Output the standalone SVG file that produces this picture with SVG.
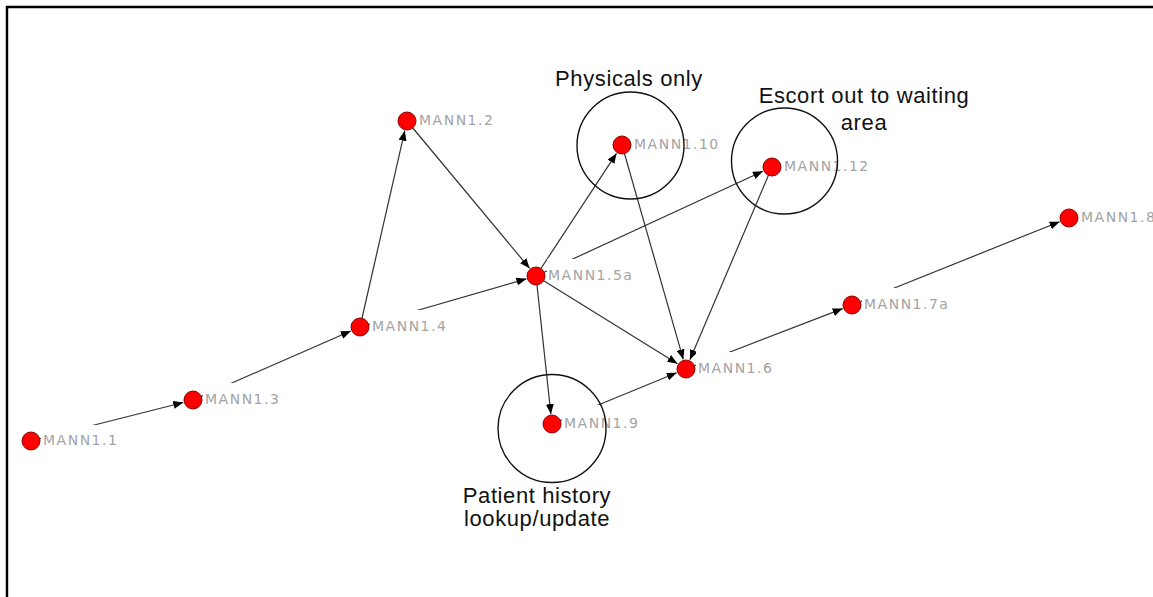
<svg xmlns="http://www.w3.org/2000/svg" width="1153" height="597" viewBox="0 0 1153 597">
  <style>
    .edge { stroke: #333333; stroke-width: 1.2; fill: none; marker-end: url(#arrow); }
    .dot { fill: #ff0000; stroke: #8b0000; stroke-width: 1; }
    .lblbg { fill: #ffffff; }
    .lbl { font-family: "DejaVu Sans", sans-serif; font-size: 14px; letter-spacing: 1.5px; fill: #a3a3a3; }
    .ring { fill: none; stroke: #111111; stroke-width: 1.4; }
    .note { font-family: "Liberation Sans", Arial, sans-serif; font-size: 22px; letter-spacing: 0.6px; fill: #111111; text-anchor: middle; }
  </style>
  <defs>
    <marker id="arrow" markerUnits="userSpaceOnUse" markerWidth="10" markerHeight="8" refX="10" refY="4" orient="auto">
      <path d="M0,0 L10,4 L0,8 z" fill="#000000"/>
    </marker>
  </defs>

  <rect width="1153" height="597" fill="#ffffff"/>
  <!-- frame: only the top and left sides fall inside the view -->
  <path d="M7,597 V7 H1153" fill="none" stroke="#000000" stroke-width="2.4"/>

  <g id="connectors">
    <line class="edge" x1="31" y1="441" x2="183.3" y2="402.5"/>
    <line class="edge" x1="193" y1="400" x2="350.8" y2="331.0"/>
    <line class="edge" x1="360" y1="327" x2="404.8" y2="130.7"/>
    <line class="edge" x1="407" y1="121" x2="529.6" y2="268.3"/>
    <line class="edge" x1="360" y1="327" x2="526.4" y2="278.8"/>
    <line class="edge" x1="536" y1="276" x2="616.5" y2="153.4"/>
    <line class="edge" x1="536" y1="276" x2="762.9" y2="171.2"/>
    <line class="edge" x1="536" y1="276" x2="677.5" y2="363.7"/>
    <line class="edge" x1="536" y1="276" x2="550.9" y2="414.1"/>
    <line class="edge" x1="622" y1="145" x2="683.3" y2="359.4"/>
    <line class="edge" x1="772" y1="167" x2="689.9" y2="359.8"/>
    <line class="edge" x1="552" y1="424" x2="676.7" y2="372.8"/>
    <line class="edge" x1="686" y1="369" x2="842.7" y2="308.6"/>
    <line class="edge" x1="852" y1="305" x2="1059.7" y2="221.7"/>
  </g>

  <g id="MANN1.1">
    <rect class="lblbg" x="41" y="425" width="82" height="23"/>
    <circle class="dot" cx="31" cy="441" r="9"/>
    <text class="lbl" x="43" y="445">MANN1.1</text>
  </g>
  <g id="MANN1.3">
    <rect class="lblbg" x="203" y="383" width="82" height="24"/>
    <circle class="dot" cx="193" cy="400" r="9"/>
    <text class="lbl" x="205" y="404">MANN1.3</text>
  </g>
  <g id="MANN1.4">
    <rect class="lblbg" x="370" y="310" width="82" height="24"/>
    <circle class="dot" cx="360" cy="327" r="9"/>
    <text class="lbl" x="372" y="331">MANN1.4</text>
  </g>
  <g id="MANN1.2">
    <rect class="lblbg" x="417" y="104" width="82" height="24"/>
    <circle class="dot" cx="407" cy="121" r="9"/>
    <text class="lbl" x="419" y="125">MANN1.2</text>
  </g>
  <g id="MANN1.5a">
    <rect class="lblbg" x="547" y="259" width="90" height="23"/>
    <circle class="dot" cx="536" cy="276" r="9"/>
    <text class="lbl" x="548" y="280">MANN1.5a</text>
  </g>
  <g id="MANN1.10">
    <rect class="lblbg" x="632" y="128" width="90" height="24"/>
    <circle class="dot" cx="622" cy="145" r="9"/>
    <text class="lbl" x="634" y="149">MANN1.10</text>
  </g>
  <g id="MANN1.12">
    <rect class="lblbg" x="782" y="150" width="90" height="24"/>
    <circle class="dot" cx="772" cy="167" r="9"/>
    <text class="lbl" x="784" y="171">MANN1.12</text>
  </g>
  <g id="MANN1.6">
    <rect class="lblbg" x="696" y="352" width="82" height="24"/>
    <circle class="dot" cx="686" cy="369" r="9"/>
    <text class="lbl" x="698" y="373">MANN1.6</text>
  </g>
  <g id="MANN1.9">
    <rect class="lblbg" x="562" y="405" width="82" height="26"/>
    <circle class="dot" cx="552" cy="424" r="9"/>
    <text class="lbl" x="564" y="428">MANN1.9</text>
  </g>
  <g id="MANN1.7a">
    <rect class="lblbg" x="862" y="288" width="90" height="24"/>
    <circle class="dot" cx="852" cy="305" r="9"/>
    <text class="lbl" x="864" y="309">MANN1.7a</text>
  </g>
  <g id="MANN1.8">
    <rect class="lblbg" x="1079" y="201" width="82" height="24"/>
    <circle class="dot" cx="1069" cy="218" r="9"/>
    <text class="lbl" x="1081" y="222">MANN1.8</text>
  </g>

  <g id="note-physicals">
    <circle class="ring" cx="630.5" cy="145.5" r="53.5"/>
    <text class="note" x="629" y="86">Physicals only</text>
  </g>
  <g id="note-escort">
    <circle class="ring" cx="784.5" cy="161" r="53"/>
    <text class="note" x="864" y="103">Escort out to waiting</text>
    <text class="note" x="864" y="130">area</text>
  </g>
  <g id="note-history">
    <circle class="ring" cx="552" cy="428.5" r="54"/>
    <text class="note" x="537" y="503">Patient history</text>
    <text class="note" x="537" y="526">lookup/update</text>
  </g>
</svg>
